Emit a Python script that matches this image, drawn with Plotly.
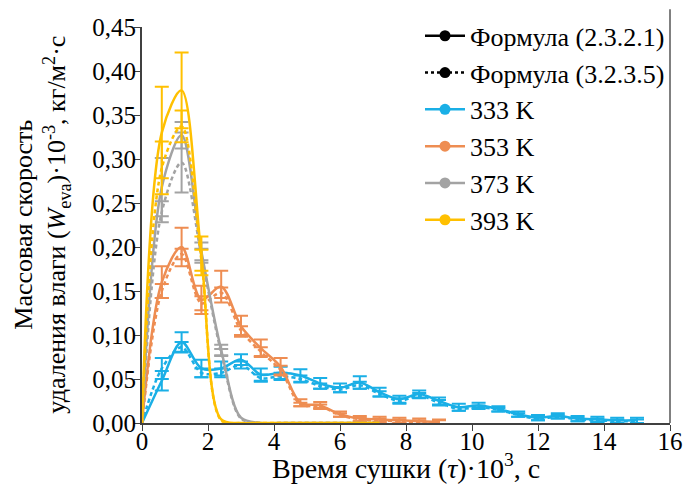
import numpy as np
import plotly.graph_objects as go

# ---------------- data ----------------
t_333 = [0, 0.6, 1.2, 1.8, 2.4, 3.0, 3.6, 4.2, 4.8, 5.4, 6.0, 6.6, 7.2, 7.8, 8.4,
         9.0, 9.6, 10.2, 10.8, 11.4, 12.0, 12.6, 13.2, 13.8, 14.4, 15.0]
w333_f1 = [0, 0.048, 0.092, 0.062, 0.062, 0.072, 0.055, 0.057, 0.054, 0.045, 0.040,
           0.046, 0.035, 0.027, 0.033, 0.025, 0.018, 0.020, 0.016, 0.010, 0.006,
           0.008, 0.005, 0.004, 0.003, 0.003]
w333_f2 = [0, 0.062, 0.086, 0.057, 0.057, 0.066, 0.051, 0.053, 0.050, 0.042, 0.038,
           0.043, 0.033, 0.025, 0.031, 0.023, 0.016, 0.018, 0.015, 0.009, 0.005,
           0.007, 0.004, 0.003, 0.002, 0.002]
e333_f1 = [0, 0.011, 0.011, 0.010, 0.008, 0.006, 0.007, 0.007, 0.007, 0.006, 0.005,
           0.007, 0.005, 0.004, 0.004, 0.004, 0.004, 0.003, 0.003, 0.003, 0.003,
           0.003, 0.003, 0.003, 0.003, 0.003]
e333_f2 = [0, 0.012, 0.006, 0.005, 0.005, 0.004, 0.004, 0.004, 0.004, 0.003, 0.003,
           0.004, 0.003, 0.003, 0.003, 0.003, 0.002, 0.002, 0.002, 0.002, 0.002,
           0.002, 0.002, 0.002, 0.002, 0.002]

t_353 = [0, 0.6, 1.2, 1.8, 2.4, 3.0, 3.6, 4.2, 4.8, 5.4, 6.0, 6.6, 7.2, 7.8, 8.4, 9.0]
w353_f1 = [0, 0.160, 0.200, 0.140, 0.155, 0.110, 0.085, 0.064, 0.023, 0.020, 0.010,
           0.005, 0.004, 0.003, 0.002, 0.001]
w353_f2 = [0, 0.150, 0.192, 0.136, 0.148, 0.105, 0.081, 0.060, 0.021, 0.019, 0.009,
           0.004, 0.003, 0.002, 0.001, 0.001]
e353_f1 = [0, 0.018, 0.022, 0.016, 0.018, 0.012, 0.010, 0.010, 0.004, 0.004, 0.003,
           0.003, 0.003, 0.003, 0.003, 0.003]
e353_f2 = [0, 0.008, 0.006, 0.008, 0.006, 0.005, 0.005, 0.005, 0.002, 0.002, 0.002,
           0.002, 0.002, 0.002, 0.002, 0.002]

t_373 = [0, 0.6, 1.2, 1.8, 2.4, 3.0, 3.6, 4.2, 4.8, 5.4, 6.0, 6.6, 7.2]
w373_f1 = [0, 0.268, 0.327, 0.195, 0.083, 0.006, 0, 0, 0, 0, 0, 0, 0]
w373_f2 = [0, 0.240, 0.296, 0.190, 0.080, 0.005, 0, 0, 0, 0, 0, 0, 0]
e373_f1 = [0, 0.033, 0.015, 0.010, 0.006, 0, 0, 0, 0, 0, 0, 0, 0]
e373_f2 = [0, 0.012, 0.034, 0.008, 0.004, 0, 0, 0, 0, 0, 0, 0, 0]

t_393 = [0, 0.6, 1.2, 1.8, 2.4, 3.0, 3.6, 4.2, 4.8, 5.4, 6.0, 6.6, 7.2]
w393_f1 = [0, 0.330, 0.378, 0.190, 0.004, 0, 0, 0, 0, 0, 0, 0, 0]
w393_f2 = [0, 0.290, 0.337, 0.185, 0.003, 0, 0, 0, 0, 0, 0, 0, 0]
e393_f1 = [0, 0.052, 0.043, 0.022, 0, 0, 0, 0, 0, 0, 0, 0, 0]
e393_f2 = [0, 0.030, 0.018, 0.012, 0, 0, 0, 0, 0, 0, 0, 0, 0]

series_names = ["333 K", "353 K", "373 K", "393 K"]
legend_formulas = ["Формула (2.3.2.1)", "Формула (3.2.3.5)"]
colors = ["#1AAFE6", "#EE8D52", "#A3A3A3", "#FFC000"]

x_ticks = [0, 2, 4, 6, 8, 10, 12, 14, 16]
y_ticks = [0.00, 0.05, 0.10, 0.15, 0.20, 0.25, 0.30, 0.35, 0.40, 0.45]

series = [
    (t_333, w333_f1, w333_f2, e333_f1, e333_f2),
    (t_353, w353_f1, w353_f2, e353_f1, e353_f2),
    (t_373, w373_f1, w373_f2, e373_f1, e373_f2),
    (t_393, w393_f1, w393_f2, e393_f1, e393_f2),
]

FONT = "Liberation Serif, Times New Roman, serif"
fig = go.Figure()

for (t, f1, f2, e1, e2), col in zip(series, colors):
    t = np.array(t, float)
    for w, e, dash in ((f1, e1, "solid"), (f2, e2, "4px,3px")):
        w = np.array(w, float)
        e = np.array(e, float)
        fig.add_trace(go.Scatter(
            x=t, y=w, mode="lines", showlegend=False, hoverinfo="skip",
            line=dict(color=col, width=2.5, dash=dash, shape="spline", smoothing=0.9)))
        m = e > 0
        fig.add_trace(go.Scatter(
            x=t[m], y=w[m], mode="markers", showlegend=False, hoverinfo="skip",
            marker=dict(size=1, color=col, opacity=0),
            error_y=dict(type="data", array=e[m], visible=True, color=col,
                         thickness=2, width=7)))

# legend-only entries
for name, dash in zip(legend_formulas, ("solid", "dot")):
    fig.add_trace(go.Scatter(
        x=[None], y=[None], mode="lines+markers", name=name,
        line=dict(color="black", width=2.5, dash=dash),
        marker=dict(color="black", size=11)))
for name, col in zip(series_names, colors):
    fig.add_trace(go.Scatter(
        x=[None], y=[None], mode="lines+markers", name=name,
        line=dict(color=col, width=2.5),
        marker=dict(color=col, size=11)))

# invisible helper trace on the label axes
fig.add_trace(go.Scatter(x=[None], y=[None], xaxis="x2", yaxis="y2",
                         showlegend=False, hoverinfo="skip"))

fig.update_layout(
    width=695, height=490,
    margin=dict(l=142, r=17, t=17, b=67),
    paper_bgcolor="white", plot_bgcolor="white",
    separators=", ",
    font=dict(family=FONT, size=25, color="black"),
    showlegend=True,
    legend=dict(x=1.0, y=1.037, xanchor="right", yanchor="top",
                bgcolor="rgba(0,0,0,0)", font=dict(family=FONT, size=26),
                itemwidth=40, tracegroupgap=0),
    xaxis=dict(range=[0, 16], tickvals=x_ticks, showticklabels=False,
               showgrid=False, zeroline=False, showline=True, linecolor="#404040",
               linewidth=1.5, ticks="outside", ticklen=6, tickcolor="#404040"),
    yaxis=dict(range=[0, 0.45], tickvals=y_ticks, showticklabels=False,
               showgrid=False, zeroline=False, showline=True, linecolor="#404040",
               linewidth=1.5, ticks="outside", ticklen=6, tickcolor="#404040"),
    xaxis2=dict(range=[0, 16], tickvals=x_ticks, ticktext=[str(v) for v in x_ticks],
                overlaying="x", anchor="y", side="bottom", showgrid=False,
                zeroline=False, showline=False, ticks="", ticklabelstandoff=1,
                tickfont=dict(family=FONT, size=25)),
    yaxis2=dict(range=[0, 0.45], tickvals=y_ticks, tickformat=".2f",
                overlaying="y", anchor="x", side="left", showgrid=False,
                zeroline=False, showline=False, ticks="", ticklabelstandoff=5,
                tickfont=dict(family=FONT, size=25)),
    annotations=[
        dict(text="Массовая скорость<br>удаления влаги (<i>W</i><sub>eva</sub>)·10<sup>-3</sup>, кг/м<sup>2</sup>·с",
             xref="paper", yref="paper", x=-0.19, y=0.5, xanchor="center", yanchor="middle",
             textangle=-90, showarrow=False, font=dict(family=FONT, size=26)),
        dict(text="Время сушки (<i>τ</i>)·10<sup>3</sup>, с",
             xref="paper", yref="paper", x=0.5, y=-0.11, xanchor="center", yanchor="middle",
             showarrow=False, font=dict(family=FONT, size=28)),
    ],
    shapes=[dict(type="line", xref="paper", yref="paper", x0=1, x1=1, y0=0, y1=1.045,
                 line=dict(color="#808080", width=2))],
)

fig.write_html("out.html")
